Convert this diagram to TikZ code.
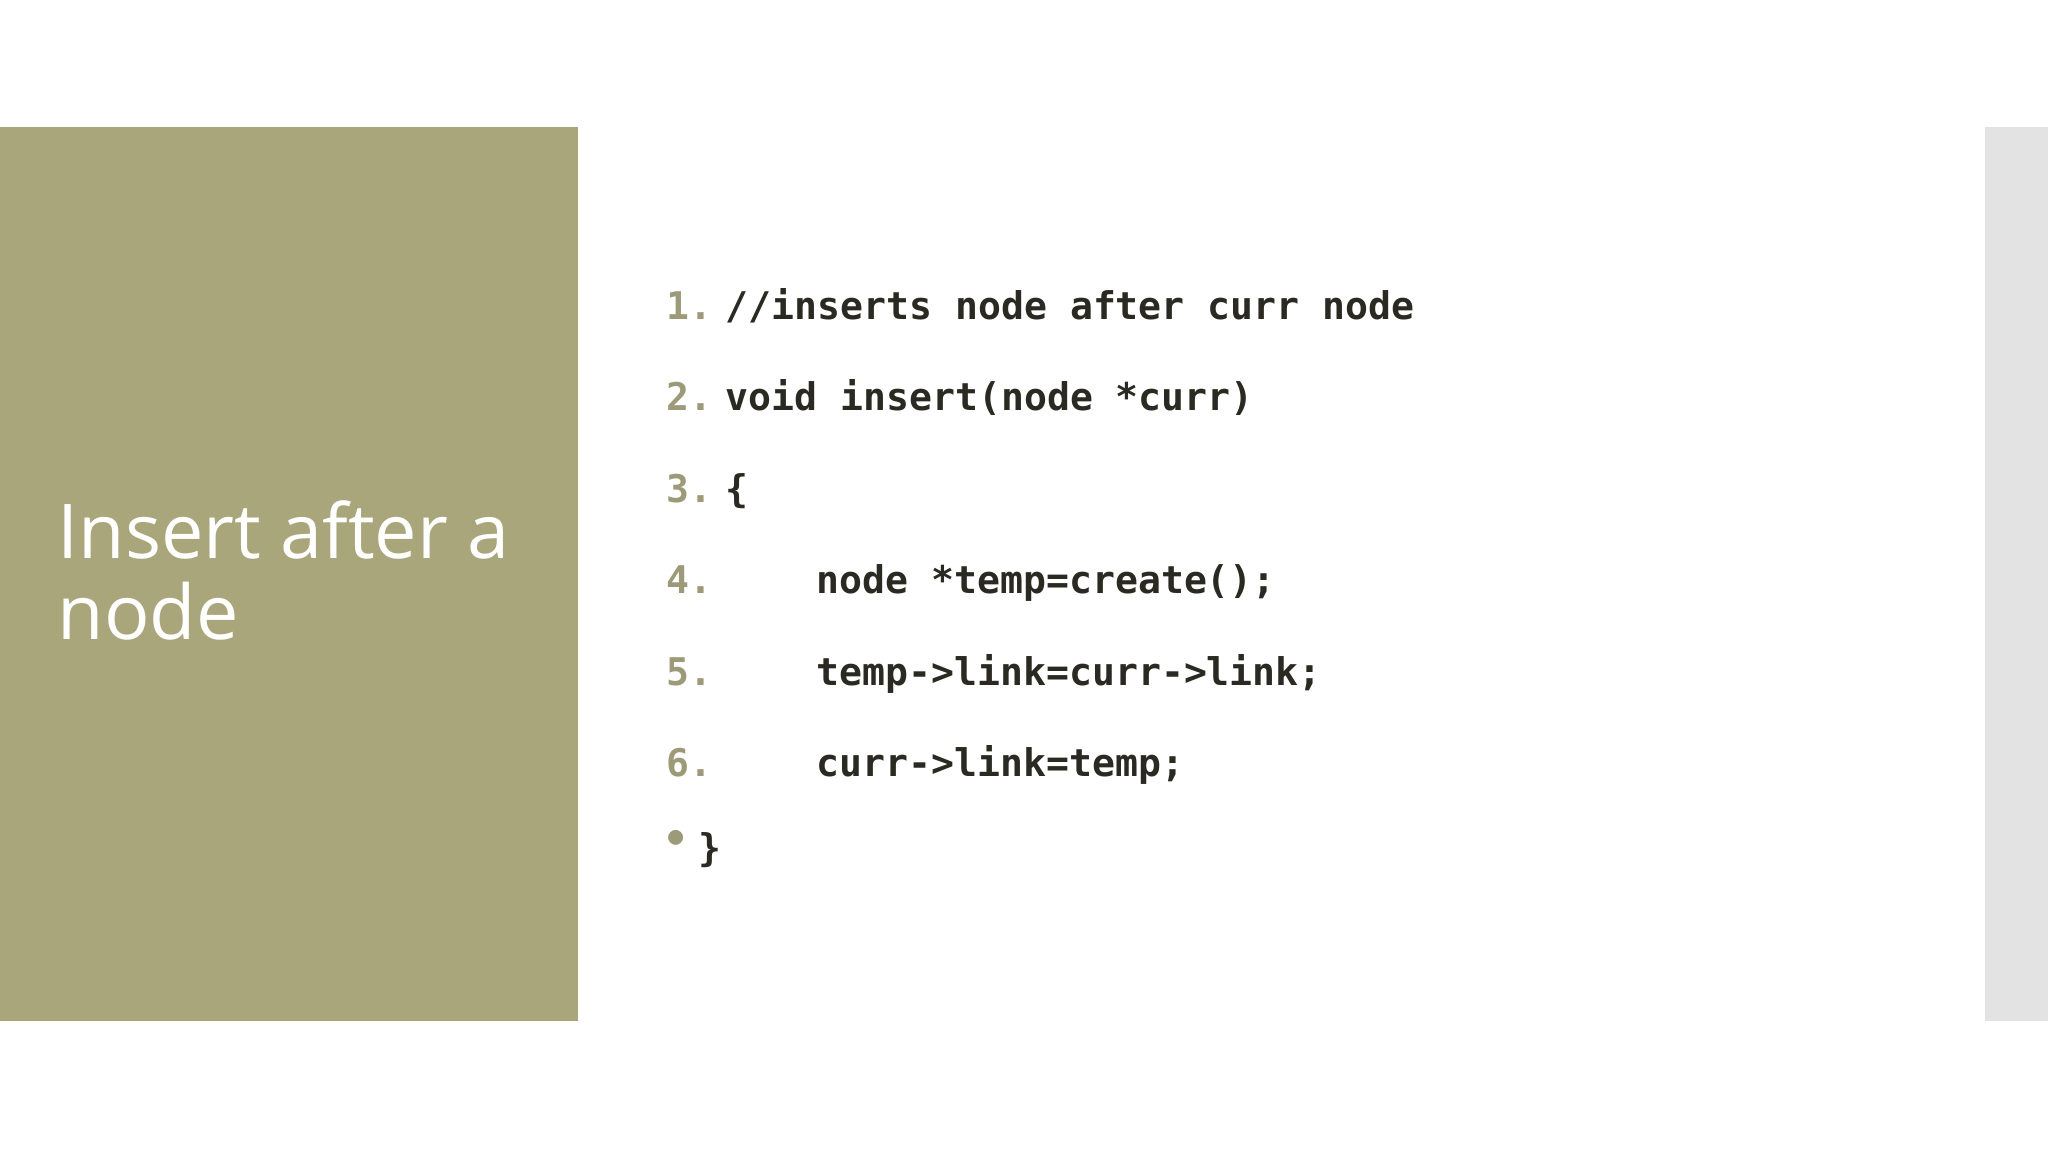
\documentclass[tikz,border=0pt]{standalone}
\usepackage{fontspec}
\setmainfont{Open Sans}
\newfontfamily\codefont{DejaVu Sans Mono}
\definecolor{olive}{HTML}{A9A67C}
\definecolor{side}{HTML}{E3E3E3}
\definecolor{num}{HTML}{9C9A78}
\definecolor{code}{HTML}{2A2A22}
\begin{document}
\begin{tikzpicture}[x=1cm,y=1cm,
  numtxt/.style={anchor=base west,inner sep=0,text=num,font=\codefont\bfseries\fontsize{10.85}{12}\selectfont},
  codetxt/.style={anchor=base west,inner sep=0,text=code,font=\codefont\bfseries\fontsize{10.85}{12}\selectfont}]
\useasboundingbox (0,0) rectangle (20.48,11.52);
\fill[white] (0,0) rectangle (20.48,11.52);
\fill[olive] (0,1.31) rectangle (5.78,10.25);
\fill[side] (19.85,1.31) rectangle (20.48,10.25);
\node[anchor=base west,inner sep=0,text=white,font=\fontsize{21.5}{26}\selectfont] (t1) at (0.57,5.93) {Insert after a};
\node[anchor=base west,inner sep=0,text=white,font=\fontsize{21.5}{26}\selectfont] (t2) at (0.57,5.12) {node};
\node[numtxt] (n1) at (6.66,8.32) {1.};
\node[numtxt] (n2) at (6.66,7.41) {2.};
\node[numtxt] (n3) at (6.66,6.49) {3.};
\node[numtxt] (n4) at (6.66,5.58) {4.};
\node[numtxt] (n5) at (6.66,4.66) {5.};
\node[numtxt] (n6) at (6.66,3.75) {6.};
\node[numtxt] (n7) at (6.66,3.04) {$\bullet$};
\node[codetxt] (c1) at (7.25,8.32) {//inserts node after curr node};
\node[codetxt] (c2) at (7.25,7.41) {void insert(node *curr)};
\node[codetxt] (c3) at (7.25,6.49) {\{};
\node[codetxt] (c4) at (8.16,5.58) {node *temp=create();};
\node[codetxt] (c5) at (8.16,4.66) {temp->link=curr->link;};
\node[codetxt] (c6) at (8.16,3.75) {curr->link=temp;};
\node[codetxt] (c7) at (6.98,2.90) {\}};
\end{tikzpicture}
\end{document}
